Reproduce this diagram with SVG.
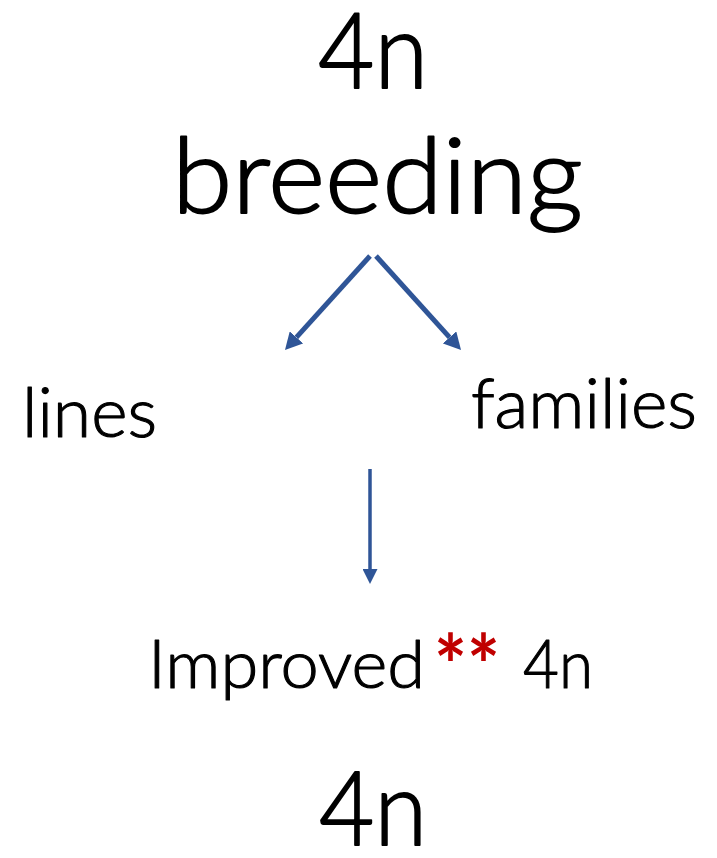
<svg xmlns="http://www.w3.org/2000/svg" width="717" height="858" viewBox="0 0 717 858">
<style>
.t{font-family:Lato,"Open Sans","Liberation Sans",sans-serif;fill:#000;font-weight:300;stroke:#000;stroke-linejoin:round;}
.big{stroke-width:1.8;}
.mid{stroke-width:1.1;}
.c{fill:none;stroke:#2F5597;}
.star{font-family:Lato,"Open Sans","Liberation Sans",sans-serif;fill:#C00000;font-weight:bold;}
</style>
<defs>
<marker id="ahBig" markerUnits="userSpaceOnUse" markerWidth="17" markerHeight="18" viewBox="0 0 17 18" refX="0" refY="9" orient="auto"><path d="M0,0 L17,9 L0,18 z" fill="#2F5597"/></marker>
<marker id="ahSmall" markerUnits="userSpaceOnUse" markerWidth="15" markerHeight="15" viewBox="0 0 15 15" refX="0" refY="7.5" orient="auto"><path d="M0,0 L15,7.5 L0,15 z" fill="#2F5597"/></marker>
</defs>
<rect width="717" height="858" fill="#fff"/>
<g id="connectors">
<line class="c" x1="370" y1="256" x2="296.4" y2="337.4" stroke-width="5" marker-end="url(#ahBig)"/>
<line class="c" x1="376" y1="256" x2="449.6" y2="337.4" stroke-width="5" marker-end="url(#ahBig)"/>
<line class="c" x1="370" y1="469" x2="370" y2="569" stroke-width="3.5" marker-end="url(#ahSmall)"/>
</g>
<g id="node-4n-breeding">
<text class="t big" x="318" y="88" font-size="105" textLength="110" lengthAdjust="spacingAndGlyphs">4n</text>
<text class="t big" x="172" y="213" font-size="104" textLength="411" lengthAdjust="spacingAndGlyphs">breeding</text>
</g>
<g id="node-lines">
<text class="t mid" x="22" y="437" font-size="68" textLength="135" lengthAdjust="spacingAndGlyphs">lines</text>
</g>
<g id="node-families">
<text class="t mid" x="471" y="428" font-size="68" textLength="226" lengthAdjust="spacingAndGlyphs">families</text>
</g>
<g id="node-improved">
<text class="t mid" x="148" y="688" font-size="67" textLength="277" lengthAdjust="spacingAndGlyphs">Improved</text>
<text class="star" x="434" y="696" font-size="84" textLength="66" lengthAdjust="spacingAndGlyphs">**</text>
<text class="t mid" x="523" y="688" font-size="67" textLength="70" lengthAdjust="spacingAndGlyphs">4n</text>
</g>
<g id="node-4n-bottom">
<text class="t big" x="319" y="845" font-size="102" textLength="108" lengthAdjust="spacingAndGlyphs">4n</text>
</g>
</svg>
